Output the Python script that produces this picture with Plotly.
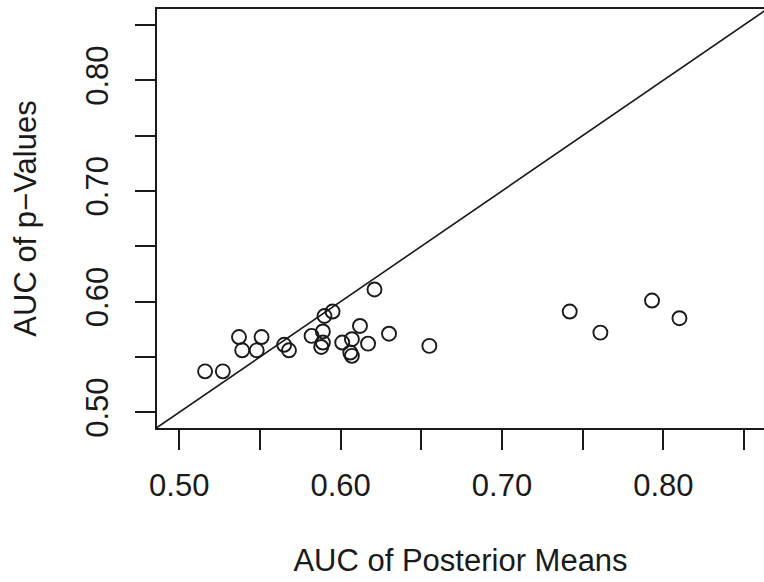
import plotly.graph_objects as go

# AUC of posterior means (x) vs AUC of p-values (y), one point per data set
auc_posterior = [0.516, 0.527, 0.537, 0.539, 0.551, 0.548, 0.565, 0.568, 0.582,
                 0.589, 0.589, 0.588, 0.590, 0.595, 0.621, 0.601, 0.607, 0.612,
                 0.606, 0.607, 0.617, 0.630, 0.655, 0.742, 0.761, 0.793, 0.810]
auc_pvalue = [0.537, 0.537, 0.568, 0.556, 0.568, 0.556, 0.561, 0.556, 0.569,
              0.573, 0.563, 0.559, 0.587, 0.591, 0.611, 0.563, 0.566, 0.578,
              0.554, 0.551, 0.562, 0.571, 0.560, 0.591, 0.572, 0.601, 0.585]

tick_vals = [0.50, 0.55, 0.60, 0.65, 0.70, 0.75, 0.80, 0.85]
tick_text = ["0.50", "", "0.60", "", "0.70", "", "0.80", ""]

x_range = [0.4862, 0.8624]
y_range = [0.4858, 0.8644]

FONT = "Liberation Sans, Arial, Helvetica, sans-serif"
INK = "#1a1a1a"

fig = go.Figure()

# identity line y = x
fig.add_trace(go.Scatter(
    x=[0.40, 0.95], y=[0.40, 0.95], mode="lines",
    line=dict(color=INK, width=1.6), hoverinfo="skip", showlegend=False,
))

fig.add_trace(go.Scatter(
    x=auc_posterior, y=auc_pvalue, mode="markers",
    marker=dict(symbol="circle-open", size=14, color=INK, line=dict(width=1.9, color=INK)),
    showlegend=False,
))

axis_common = dict(
    tickmode="array", tickvals=tick_vals, ticktext=tick_text,
    ticks="outside", ticklen=20, tickwidth=1.7, tickcolor=INK,
    showline=True, linewidth=2, linecolor=INK,
    showgrid=False, zeroline=False, automargin=False,
    tickfont=dict(family=FONT, size=31, color=INK),
)

fig.update_layout(
    width=764, height=582,
    margin=dict(l=157, r=0, t=9, b=154),
    paper_bgcolor="white", plot_bgcolor="white",
    xaxis=dict(range=x_range, mirror=True, ticklabelstandoff=9,
               title=dict(text="AUC of Posterior Means", standoff=47,
                          font=dict(family=FONT, size=31, color=INK)),
               **axis_common),
    yaxis=dict(range=y_range, tickangle=-90, ticklabelstandoff=15,
               title=dict(text="AUC of p\u2212Values", standoff=34,
                          font=dict(family=FONT, size=31, color=INK)),
               **axis_common),
)

fig.write_html("out.html")
